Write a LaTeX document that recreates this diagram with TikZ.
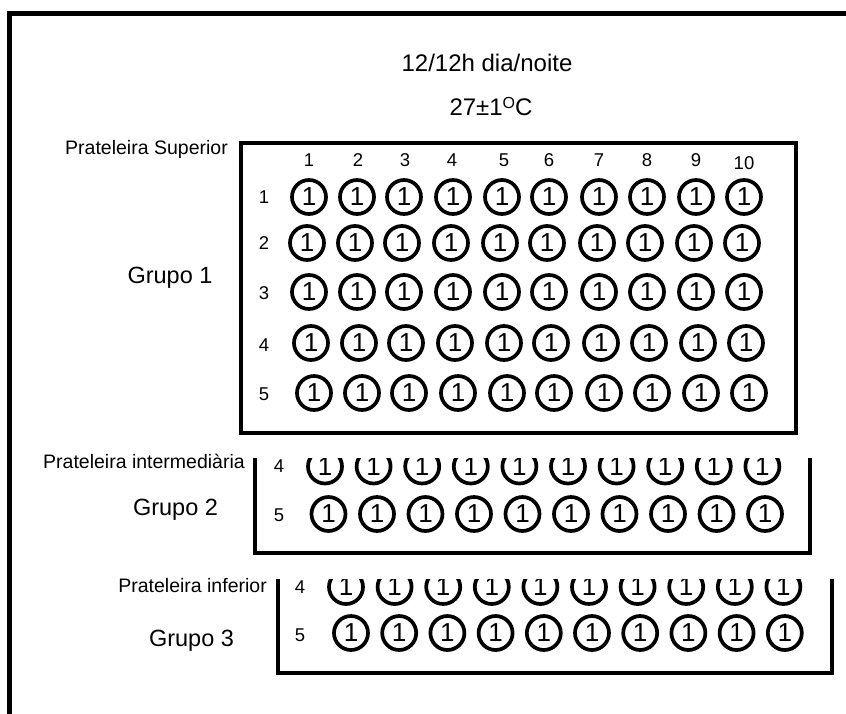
\documentclass[tikz,border=0pt]{standalone}
\usepackage{fontspec}
\setmainfont{Liberation Sans}
\begin{document}
\begin{tikzpicture}[x=1pt,y=-1pt,
  well/.style={circle,draw,line width=3.7pt,minimum size=34pt,inner sep=0pt,font=\fontsize{26}{26}\selectfont},
  lbl/.style={font=\fontsize{18.5}{18.5}\selectfont,inner sep=0pt},
  shelflbl/.style={font=\fontsize{19.5}{19.5}\selectfont,inner sep=0pt,anchor=base east},
  grp/.style={font=\fontsize{23.5}{23.5}\selectfont,inner sep=0pt,anchor=base},
  title/.style={font=\fontsize{24}{24}\selectfont,inner sep=0pt,anchor=base},
  shelfline/.style={line width=4pt}]
\useasboundingbox (0,0) rectangle (846,713);
\clip (0,0) rectangle (846,713);
% outer frame (only top and left visible)
\draw[line width=5pt] (9.5,730) -- (9.5,13.5) -- (860,13.5);
% titles
\node[title] (t1) at (487,71) {12/12h dia/noite};
\node[title] (t2) at (491,115) {27±1\raisebox{0.28em}{\fontsize{16}{16}\selectfont O}C};
% shelf 1
\draw[shelfline] (240.5,142.5) rectangle (796,433);
\node[shelflbl] (p1) at (228,154) {Prateleira Superior};
\node[grp] (g1) at (170,283) {Grupo 1};
\foreach \x [count=\c] in {309,358,405,452,504,549,599,647,696}
  \node[lbl] (h\c) at (\x,160) {\c};
\node[lbl] (h10) at (744,163) {10};
\foreach \r/\y in {1/197,2/243,3/293,4/345,5/394}
  \node[lbl] (r\r) at (264,\y) {\r};
\foreach \r/\y/\dx in {1/197/0,2/243/-2,3/292/0,4/343/2,5/393/5}
  \foreach \x [count=\c] in {309,357,404,453,502,549,599,647,696,744}
    \node[well] (sA-\r-\c) at (\x+\dx,\y) {1};
% shelf 2
\draw[shelfline] (255,458) -- (255,553) -- (810,553) -- (810,458);
\node[shelflbl] (p2) at (245,468) {Prateleira intermediària};
\node[grp] (g2) at (175.5,515) {Grupo 2};
\node[lbl] (r24) at (279,466) {4};
\node[lbl] (r25) at (279,515) {5};
\begin{scope}
  \clip (0,458) rectangle (846,713);
  \foreach \c in {1,...,10}
    \node[well] (sB-4-\c) at (325+48.6*\c-48.6,466.5) {1};
\end{scope}
\foreach \c in {1,...,10}
  \node[well] (sB-5-\c) at (328.5+48.5*\c-48.5,514) {1};
% shelf 3
\draw[shelfline] (278,579) -- (278,673) -- (832,673) -- (832,579);
\node[shelflbl] (p3) at (267,592) {Prateleira inferior};
\node[grp] (g3) at (191.5,646) {Grupo 3};
\node[lbl] (r34) at (300,587) {4};
\node[lbl] (r35) at (300,635) {5};
\begin{scope}
  \clip (0,579) rectangle (846,713);
  \foreach \c in {1,...,10}
    \node[well] (sC-4-\c) at (346+48.6*\c-48.6,587) {1};
\end{scope}
\foreach \c in {1,...,10}
  \node[well] (sC-5-\c) at (351+48.2*\c-48.2,633) {1};
\end{tikzpicture}
\end{document}
